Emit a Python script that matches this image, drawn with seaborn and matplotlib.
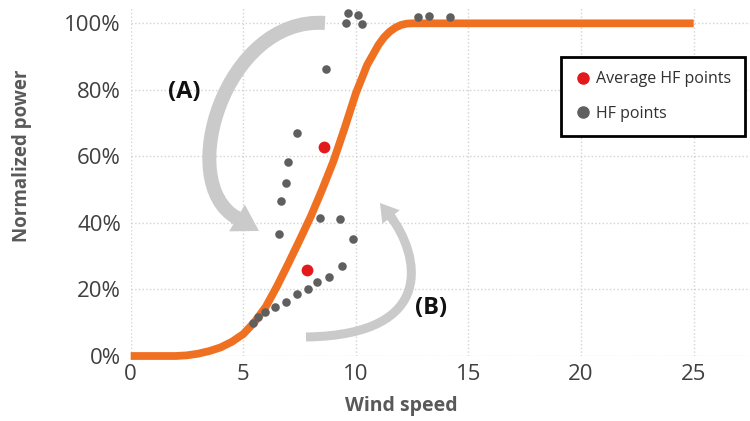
import numpy as np
import pandas as pd
import matplotlib
matplotlib.use("Agg")
import matplotlib.pyplot as plt
import seaborn as sns
from matplotlib.ticker import PercentFormatter
from matplotlib.patches import FancyArrowPatch, PathPatch
from matplotlib.path import Path
from matplotlib.lines import Line2D
from matplotlib.transforms import Affine2D

# ---- data ----
curve_wind = [0, 1, 2, 2.5, 3, 3.5, 4, 4.5, 5, 5.5, 6, 6.5, 7, 7.5, 8, 8.5, 9, 9.5,
              10, 10.5, 11, 11.25, 11.5, 11.75, 12, 12.25, 12.5, 25]
curve_power = [0, 0, 0, 0.2, 0.7, 1.5, 2.6, 4.3, 6.6, 10.2, 14.8, 21, 27.8, 34.8, 42, 50, 58.5, 68.5,
               79, 87.5, 93.5, 95.8, 97.5, 98.7, 99.5, 99.9, 100, 100]

hf_wind = [9.66, 10.11, 9.56, 10.26, 12.77, 13.26, 14.18, 8.67, 7.37, 6.98, 6.88, 6.67,
           8.41, 9.29, 6.60, 9.88, 9.40, 8.79, 8.27, 7.87, 7.37, 6.88, 6.39, 5.96, 5.67, 5.44]
hf_power = [103.2, 102.5, 100.0, 99.8, 102.0, 102.2, 101.8, 86.2, 66.9, 58.2, 52.1, 46.7,
            41.4, 41.1, 36.7, 35.1, 27.1, 23.7, 22.2, 20.2, 18.7, 16.3, 14.8, 13.1, 11.6, 9.8]

avg_wind = [8.60, 7.84]
avg_power = [62.9, 25.8]

x_ticks = [0, 5, 10, 15, 20, 25]
y_ticks = [0, 20, 40, 60, 80, 100]

ORANGE = "#f07022"
GREY = "#5f5f5f"
RED = "#e3191c"
ARROW = "#cacaca"

sns.set_theme(style="white")
plt.rcParams["font.family"] = ["Open Sans", "DejaVu Sans"]

fig = plt.figure(figsize=(7.5, 4.21), dpi=100)
ax = fig.add_axes([130.7 / 750, 65 / 421, 619.3 / 750, 349.3 / 421])

ax.set_xlim(0, 27.5)
ax.set_ylim(0, 105)
ax.set_xticks(x_ticks)
ax.set_yticks(y_ticks)
ax.yaxis.set_major_formatter(PercentFormatter(100, decimals=0))
ax.grid(True, color="#d2d2d2", linestyle=":", linewidth=1.0)
for s in ax.spines.values():
    s.set_visible(False)
ax.tick_params(axis="both", length=0, labelsize=16, labelcolor="#404040")
ax.tick_params(axis="y", pad=7)
ax.tick_params(axis="x", pad=6)

# curved annotation arrows, positioned in image pixel space (top-left origin)
pix = Affine2D().scale(1 / 750, -1 / 421).translate(0, 1) + fig.transFigure


def curved_arrow(p0, c1, c2, base, tip, body_px, head_w_px):
    unit = 10 * fig.dpi / 72.0
    body = PathPatch(Path([p0, c1, c2, base],
                          [Path.MOVETO, Path.CURVE4, Path.CURVE4, Path.CURVE4]),
                     fill=False, edgecolor=ARROW, lw=body_px * 72 / fig.dpi,
                     capstyle="butt", transform=pix, zorder=1, clip_on=False)
    fig.add_artist(body)
    bx, by = base
    tx, ty = tip
    L = np.hypot(tx - bx, ty - by)
    ux, uy = (tx - bx) / L, (ty - by) / L
    start = (bx - 3 * ux, by - 3 * uy)
    head = FancyArrowPatch(start, tip, transform=pix,
                           arrowstyle=f"simple,head_width={head_w_px / unit:.3f},"
                                      f"head_length={L / unit:.3f},tail_width={body_px / unit:.3f}",
                           mutation_scale=10, color=ARROW, lw=0, shrinkA=0, shrinkB=0,
                           zorder=1, clip_on=False)
    fig.add_artist(head)


curved_arrow((325, 23), (225, 16), (174, 183), (237, 218), (259, 231), 14, 31)
curved_arrow((306, 337), (440, 335), (418, 253), (391, 217), (380, 203), 9, 22)

ax.text(2.38, 79.3, "(A)", fontsize=17, fontweight="bold", color="#111111", ha="center", va="center")
ax.text(13.33, 14.5, "(B)", fontsize=17, fontweight="bold", color="#111111", ha="center", va="center")

curve_df = pd.DataFrame({"wind": curve_wind, "power": curve_power})
sns.lineplot(data=curve_df, x="wind", y="power", ax=ax, color=ORANGE, linewidth=5.6,
             solid_capstyle="butt", solid_joinstyle="round", zorder=3, clip_on=False)

hf_df = pd.DataFrame({"wind": hf_wind, "power": hf_power})
sns.scatterplot(data=hf_df, x="wind", y="power", ax=ax, color=GREY, s=38, linewidth=0,
                zorder=4, clip_on=False)
avg_df = pd.DataFrame({"wind": avg_wind, "power": avg_power})
sns.scatterplot(data=avg_df, x="wind", y="power", ax=ax, color=RED, s=72, linewidth=0, zorder=5)

ax.set_xlabel("Wind speed", fontsize=14, fontweight="bold", color="#595959")
ax.set_ylabel("Normalized power", fontsize=13.5, fontweight="bold", color="#595959")
ax.xaxis.set_label_coords(0.437, -0.115)
ax.yaxis.set_label_coords(-0.159, 0.573)

handles = [Line2D([], [], marker="o", linestyle="", color=RED, markersize=8),
           Line2D([], [], marker="o", linestyle="", color=GREY, markersize=8)]
leg = ax.legend(handles, ["Average HF points", "HF points"], loc="upper right",
                bbox_to_anchor=(0.992, 0.856), borderaxespad=0, fontsize=11.5,
                frameon=True, fancybox=False, framealpha=1, edgecolor="black",
                handletextpad=0.35, handlelength=0.9, borderpad=0.9, labelspacing=1.15)
leg.get_frame().set_linewidth(2)
for t in leg.get_texts():
    t.set_color("#303030")

fig.savefig("out.png", dpi=100)
